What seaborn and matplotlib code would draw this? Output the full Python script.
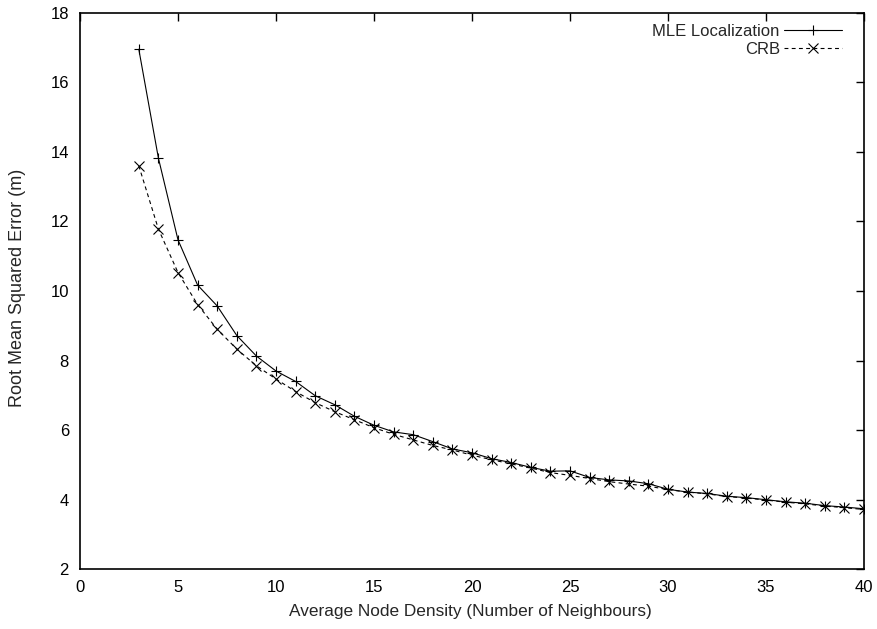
import matplotlib
matplotlib.use("Agg")
import matplotlib.pyplot as plt
import seaborn as sns
import pandas as pd

density = list(range(3, 41))
mle_rmse = [16.95, 13.82, 11.47, 10.17, 9.57, 8.72, 8.13, 7.70, 7.40, 6.99,
            6.73, 6.40, 6.14, 5.95, 5.87, 5.67, 5.46, 5.35, 5.18, 5.07,
            4.93, 4.82, 4.83, 4.64, 4.57, 4.54, 4.46, 4.30, 4.22, 4.18,
            4.10, 4.06, 4.00, 3.94, 3.90, 3.83, 3.79, 3.74]
crb_rmse = [13.60, 11.78, 10.53, 9.61, 8.90, 8.33, 7.85, 7.47, 7.11, 6.79,
            6.53, 6.30, 6.07, 5.88, 5.72, 5.56, 5.43, 5.28, 5.15, 5.03,
            4.91, 4.78, 4.70, 4.61, 4.52, 4.45, 4.39, 4.29, 4.22, 4.17,
            4.09, 4.05, 3.99, 3.93, 3.88, 3.82, 3.77, 3.72]
series_names = ["MLE Localization", "CRB"]
x_ticks = [0, 5, 10, 15, 20, 25, 30, 35, 40]
y_ticks = [2, 4, 6, 8, 10, 12, 14, 16, 18]

sns.set_style("white")
plt.rcParams['font.family'] = ['Liberation Sans', 'DejaVu Sans']

df = pd.DataFrame({
    "density": density * 2,
    "rmse": mle_rmse + crb_rmse,
    "series": [series_names[0]] * len(density) + [series_names[1]] * len(density),
})

W, H = 877, 629
L, R, T, B = 80, 864, 12.7, 569.3
fig = plt.figure(figsize=(W / 100, H / 100), dpi=100)
ax = fig.add_axes([L / W, 1 - B / H, (R - L) / W, (B - T) / H])

sns.lineplot(data=df, x="density", y="rmse", hue="series", style="series",
             palette=["black", "black"], dashes={series_names[0]: "", series_names[1]: (3.5, 3)},
             markers={series_names[0]: "+", series_names[1]: "x"},
             markersize=7, markeredgewidth=0.8, linewidth=0.8,
             markeredgecolor="black", ax=ax, legend=True)

fs = 12
ax.set_xlim(0, 40)
ax.set_ylim(2, 18)
ax.set_xticks(x_ticks)
ax.set_yticks(y_ticks)
ax.tick_params(direction="in", length=6, width=1, top=True, right=True,
               labelsize=fs, colors="black")
ax.tick_params(axis="x", pad=8)
ax.tick_params(axis="y", pad=8)
for s in ax.spines.values():
    s.set_color("black")
    s.set_linewidth(1.2)
ax.set_xlabel("Average Node Density (Number of Neighbours)", fontsize=12.4)
ax.set_ylabel("Root Mean Squared Error (m)", fontsize=13)
ax.xaxis.set_label_coords((470 - L) / (R - L), -(604 - B) / (B - T))
ax.yaxis.set_label_coords((17.5 - L) / (R - L), (B - 287.5) / (B - T))
ax.yaxis.label.set_va("center")

handles, labels = ax.get_legend_handles_labels()
leg = ax.legend(handles, labels, loc="upper right", frameon=False, markerfirst=False,
                fontsize=fs, handlelength=3.5, handletextpad=0.25, labelspacing=0.15,
                borderaxespad=0, bbox_to_anchor=((849 - L) / (R - L), 1 - (17.5 - T) / (B - T)))

fig.savefig("out.png", dpi=100)
